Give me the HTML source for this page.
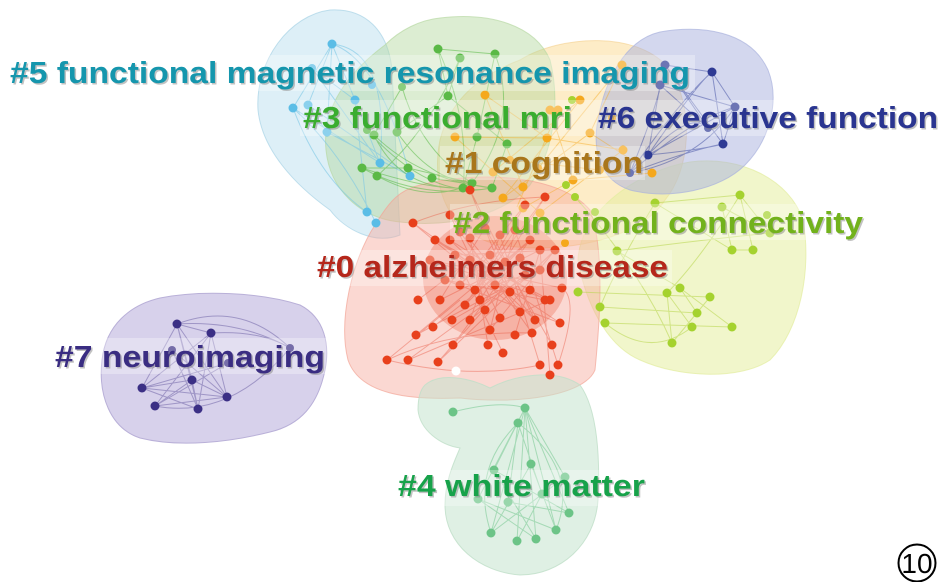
<!DOCTYPE html>
<html><head><meta charset="utf-8"><style>
html,body{margin:0;padding:0;background:#fff;}
svg{display:block;}
text{font-family:"Liberation Sans",Arial,sans-serif;font-weight:bold;}
</style></head><body>
<svg width="945" height="582" viewBox="0 0 945 582" xmlns="http://www.w3.org/2000/svg">
<rect width="945" height="582" fill="#fff"/>
<!-- blobs -->
<path d="M520 60 C560 35,640 30,670 70 C695 110,690 170,665 200 C640 240,560 255,500 245 C450 235,430 190,440 140 C450 100,480 75,520 60 Z" fill="#fbd98f" fill-opacity="0.5" stroke="#f4cf8a" stroke-opacity="0.6"/>
<path d="M690 162 C740 155,790 180,803 220 C812 270,800 330,770 360 C740 380,680 378,640 360 C605 345,585 300,578 260 C580 210,640 170,690 162 Z" fill="#e6efa0" fill-opacity="0.55" stroke="#e3eca0" stroke-opacity="0.7"/>
<path d="M660 32 C700 25,750 30,768 70 C780 100,770 140,745 165 C720 190,670 200,630 190 C600 180,592 150,598 120 C605 80,625 40,660 32 Z" fill="#a7b0de" fill-opacity="0.5" stroke="#a9b2dd" stroke-opacity="0.7"/>
<path d="M330 10 C365 8,388 30,392 70 L400 235 C375 245,345 230,330 210 C295 185,262 150,258 110 C255 60,290 15,330 10 Z" fill="#b4dcee" fill-opacity="0.45" stroke="#a8d3e6" stroke-opacity="0.7"/>
<path d="M440 18 C490 12,535 25,550 60 C560 100,555 150,530 185 C505 215,450 228,400 222 C360 218,330 190,326 150 C322 110,345 75,385 45 C400 30,420 20,440 18 Z" fill="#b2d69c" fill-opacity="0.45" stroke="#b8d8a4" stroke-opacity="0.7"/>
<path d="M420 185 C480 170,560 175,590 210 C605 250,600 320,595 370 C585 395,520 405,460 398 C410 400,360 395,348 360 C338 320,352 260,375 225 C390 200,400 190,420 185 Z" fill="#f6a99c" fill-opacity="0.45" stroke="#f2a597" stroke-opacity="0.7"/>
<path d="M160 298 C200 290,260 292,300 305 C325 318,330 345,325 370 C318 405,300 425,270 432 C230 442,180 448,140 438 C110 428,98 395,102 360 C106 325,130 305,160 298 Z" fill="#c6bee2" fill-opacity="0.7" stroke="#b9b0d8"/>
<path d="M425 385 C440 372,470 378,490 388 C515 375,555 368,580 385 C598 410,600 460,598 500 C595 545,560 575,520 575 C480 572,445 545,445 505 C445 480,455 460,460 448 C440 445,420 430,418 410 C418 398,420 390,425 385 Z" fill="#c4e3cd" fill-opacity="0.55" stroke="#bfdec8" stroke-opacity="0.8"/>
<!-- dense red core -->
<ellipse cx="495" cy="278" rx="72" ry="62" fill="#ea5a40" fill-opacity="0.3"/>
<!-- edges -->
<g fill="none" stroke-width="1">
<path stroke="#7cc6e4" stroke-opacity="0.6" d="M332 44 L293 108 M332 44 L308 105 M332 44 L355 100 M332 44 L327 132 M332 44 Q380 60 410 176 M332 44 Q390 50 380 163 M293 108 L380 163 M308 105 L410 176 M355 100 L367 212 M327 132 L410 176 M293 108 Q340 150 376 223 M355 100 L380 163 M308 105 L327 132 M312 68 L380 163 M312 68 L355 100 M293 108 Q320 180 367 212"/>
<path stroke="#5ab946" stroke-opacity="0.55" d="M362 168 Q420 200 492 188 M377 176 Q430 205 472 183 M362 168 Q430 190 463 188 M374 135 Q420 180 492 188 M397 132 Q430 180 472 183 M438 49 L448 96 M460 58 L448 96 M495 54 L477 137 M438 49 Q470 120 463 188 M402 87 L374 135 M448 96 L397 132 M408 168 L472 183 M432 178 L492 188 M477 137 L463 188 M507 144 L492 188 M495 54 Q520 120 472 183 M460 58 Q430 130 377 176 M438 49 L495 54 M374 135 Q400 190 463 188 M367 130 Q430 200 492 188 M402 87 Q420 150 472 183 M362 168 L408 168 M448 96 L507 144"/>
<path stroke="#f5a81c" stroke-opacity="0.45" d="M485 95 L523 187 M580 100 L503 198 M550 110 L573 180 M622 65 L590 133 M455 137 L540 213 M547 138 L623 150 M590 133 L652 173 M493 172 L580 100 M523 187 L622 65 M558 110 L517 207 M573 180 L652 173 M455 137 L547 138 M510 160 L600 170 M485 95 L547 138 M523 208 L573 180 M540 213 L623 150 M503 198 L590 133"/>
<path stroke="#3b4aa0" stroke-opacity="0.5" d="M630 173 Q660 100 665 65 M630 173 Q680 100 712 72 M630 173 Q690 120 735 107 M630 173 Q690 150 723 144 M648 155 Q690 110 708 128 M648 155 L660 85 M648 155 Q700 80 712 72 M648 155 L735 107 M665 65 L712 72 M712 72 L735 107 M735 107 L723 144 M660 85 L708 128 M665 65 L723 144 M630 173 Q700 160 735 107 M660 85 L735 107 M665 65 L708 128 M712 72 L723 144 M648 155 Q700 150 723 144"/>
<path stroke="#b6d64a" stroke-opacity="0.55" d="M655 203 L740 195 M655 203 L732 250 M722 207 L770 233 M740 195 L753 250 M617 251 L680 288 M680 288 L732 327 M667 293 L692 327 M710 297 L672 343 M600 307 L697 313 M605 323 L732 327 M655 203 Q620 260 600 307 M740 195 Q700 260 667 293 M722 207 L732 250 M617 251 Q700 240 770 233 M575 197 Q640 270 672 343 M578 292 L710 297 M740 195 L770 233 M732 250 L753 250 M680 288 L697 313 M667 293 L672 343 M605 323 Q650 360 692 327"/>
<path stroke="#e8503a" stroke-opacity="0.4" d="M413 223 L480 270 M418 300 L470 260 M416 335 L500 290 M387 360 L460 300 M408 360 L490 300 M438 362 L510 280 M433 327 L520 258 M452 320 L540 270 M453 345 L530 240 M488 345 L470 238 M503 353 L455 255 M532 333 L460 232 M552 345 L485 228 M540 365 L500 235 M558 365 L515 230 M550 375 L540 250 M560 323 L445 280 M550 300 L435 240 M562 288 L430 260 M525 205 L475 290 M545 197 L465 305 M470 190 L510 292 M450 215 L535 320 M450 240 L545 300 M460 232 L520 312 M470 238 L485 310 M485 228 L440 300 M500 235 L470 320 M515 230 L490 330 M530 240 L465 305 M540 250 L515 335 M455 255 L555 250 M470 260 L530 290 M490 255 L460 285 M505 262 L475 290 M387 360 Q470 380 540 365 M387 360 Q450 330 532 333 M413 223 Q470 200 545 197 M558 365 Q580 300 562 288 M416 335 L530 240 M408 360 L550 300 M438 362 L555 250 M445 280 L545 300 M440 300 L540 250 M450 240 L535 320 M460 285 L525 205 M480 300 L545 197 M500 318 L450 215 M520 312 L413 223 M535 320 L470 190 M490 330 L555 250 M465 305 L515 230 M430 260 L550 300 M435 240 L560 323 M475 290 L530 240 M510 292 L455 255 M495 285 L540 270 M470 320 L525 275"/>
<path stroke="#5a4e9a" stroke-opacity="0.45" d="M177 324 L211 333 M177 324 L192 380 M177 324 L142 388 M177 324 L198 409 M177 324 L227 397 M177 324 Q240 320 290 348 M211 333 L155 406 M211 333 L198 409 M211 333 L227 397 M211 333 Q260 330 290 348 M172 350 L227 397 M192 380 L142 388 M192 380 L155 406 M192 380 L198 409 M192 380 L227 397 M142 388 L198 409 M155 406 L227 397 M142 388 L227 397 M155 406 Q230 420 290 348 M228 363 L155 406 M228 363 L142 388 M172 350 L198 409 M211 333 L142 388 M177 324 Q240 300 290 348"/>
<path stroke="#6cc487" stroke-opacity="0.5" d="M453 412 Q500 400 525 408 M525 408 L494 470 M525 408 L478 499 M525 408 L491 533 M525 408 L517 541 M525 408 L536 539 M525 408 L556 530 M525 408 L569 513 M525 408 L565 477 M518 423 L508 502 M518 423 L542 494 M531 464 L491 533 M531 464 L556 530 M494 470 L536 539 M565 477 L491 533 M478 499 L556 530 M508 502 L569 513 M542 494 L517 541 M478 499 L536 539 M494 470 L569 513 M518 423 Q470 470 491 533 M518 423 Q580 470 556 530"/>
</g>
<!-- nodes -->
<g fill="#5bbde6">
<circle cx="332" cy="44" r="4.5"/><circle cx="293" cy="108" r="4.5"/><circle cx="308" cy="105" r="4.5"/><circle cx="312" cy="68" r="4"/><circle cx="355" cy="100" r="4.5"/><circle cx="327" cy="132" r="4.5"/><circle cx="380" cy="163" r="4.5"/><circle cx="410" cy="176" r="4.5"/><circle cx="367" cy="212" r="4.5"/><circle cx="376" cy="223" r="4.5"/><circle cx="372" cy="85" r="4"/>
</g>
<g fill="#5ab946">
<circle cx="438" cy="49" r="4.5"/><circle cx="460" cy="58" r="4.5"/><circle cx="495" cy="54" r="4.5"/><circle cx="402" cy="87" r="4"/><circle cx="448" cy="96" r="4.5"/><circle cx="367" cy="130" r="4"/><circle cx="374" cy="135" r="4.5"/><circle cx="397" cy="132" r="4.5"/><circle cx="477" cy="137" r="4.5"/><circle cx="507" cy="144" r="4.5"/><circle cx="362" cy="168" r="4.5"/><circle cx="377" cy="176" r="4.5"/><circle cx="408" cy="168" r="4.5"/><circle cx="432" cy="178" r="4.5"/><circle cx="463" cy="188" r="4.5"/><circle cx="472" cy="183" r="4.5"/><circle cx="492" cy="188" r="4.5"/>
</g>
<g fill="#f5a81c">
<circle cx="485" cy="95" r="4.5"/><circle cx="580" cy="100" r="4.5"/><circle cx="550" cy="110" r="4.5"/><circle cx="558" cy="110" r="4.5"/><circle cx="622" cy="65" r="4.5"/><circle cx="455" cy="137" r="4.5"/><circle cx="547" cy="138" r="4.5"/><circle cx="590" cy="133" r="4.5"/><circle cx="623" cy="150" r="4.5"/><circle cx="493" cy="172" r="4.5"/><circle cx="523" cy="187" r="4.5"/><circle cx="573" cy="180" r="4.5"/><circle cx="652" cy="173" r="4.5"/><circle cx="503" cy="198" r="4.5"/><circle cx="523" cy="208" r="4.5"/><circle cx="540" cy="213" r="4.5"/><circle cx="565" cy="243" r="4"/><circle cx="510" cy="160" r="4"/><circle cx="600" cy="170" r="4"/><circle cx="538" cy="168" r="4"/><circle cx="612" cy="118" r="4"/>
</g>
<g fill="#2e3a94">
<circle cx="665" cy="65" r="4.5"/><circle cx="712" cy="72" r="4.5"/><circle cx="660" cy="85" r="4.5"/><circle cx="735" cy="107" r="4.5"/><circle cx="708" cy="128" r="4"/><circle cx="723" cy="144" r="4.5"/><circle cx="648" cy="155" r="4.5"/><circle cx="630" cy="173" r="4"/>
</g>
<g fill="#a5d22f">
<circle cx="655" cy="203" r="4.5"/><circle cx="740" cy="195" r="4.5"/><circle cx="722" cy="207" r="4.5"/><circle cx="767" cy="215" r="4"/><circle cx="770" cy="233" r="4.5"/><circle cx="732" cy="250" r="4.5"/><circle cx="753" cy="250" r="4.5"/><circle cx="617" cy="251" r="4.5"/><circle cx="680" cy="288" r="4.5"/><circle cx="667" cy="293" r="4.5"/><circle cx="710" cy="297" r="4.5"/><circle cx="697" cy="313" r="4.5"/><circle cx="692" cy="327" r="4.5"/><circle cx="732" cy="327" r="4.5"/><circle cx="600" cy="307" r="4.5"/><circle cx="605" cy="323" r="4.5"/><circle cx="672" cy="343" r="4.5"/><circle cx="575" cy="197" r="4"/><circle cx="578" cy="292" r="4.5"/><circle cx="572" cy="100" r="4"/><circle cx="595" cy="212" r="4"/><circle cx="566" cy="185" r="4"/>
</g>
<g fill="#e8401c">
<circle cx="413" cy="223" r="4.5"/><circle cx="418" cy="300" r="4.5"/><circle cx="416" cy="335" r="4.5"/><circle cx="387" cy="360" r="4.5"/><circle cx="408" cy="360" r="4.5"/><circle cx="438" cy="362" r="4.5"/><circle cx="433" cy="327" r="4.5"/><circle cx="452" cy="320" r="4.5"/><circle cx="453" cy="345" r="4.5"/><circle cx="488" cy="345" r="4.5"/><circle cx="503" cy="353" r="4.5"/><circle cx="532" cy="333" r="4.5"/><circle cx="552" cy="345" r="4.5"/><circle cx="540" cy="365" r="4.5"/><circle cx="558" cy="365" r="4.5"/><circle cx="550" cy="375" r="4.5"/><circle cx="560" cy="323" r="4.5"/><circle cx="550" cy="300" r="4.5"/><circle cx="562" cy="288" r="4.5"/><circle cx="525" cy="205" r="4.5"/><circle cx="545" cy="197" r="4.5"/><circle cx="470" cy="190" r="4.5"/><circle cx="450" cy="215" r="4.5"/>
<circle cx="450" cy="240" r="4.5"/><circle cx="460" cy="232" r="4.5"/><circle cx="470" cy="238" r="4.5"/><circle cx="485" cy="228" r="4.5"/><circle cx="500" cy="235" r="4.5"/><circle cx="515" cy="230" r="4.5"/><circle cx="530" cy="240" r="4.5"/><circle cx="540" cy="250" r="4.5"/><circle cx="455" cy="255" r="4.5"/><circle cx="470" cy="260" r="4.5"/><circle cx="490" cy="255" r="4.5"/><circle cx="505" cy="262" r="4.5"/><circle cx="520" cy="258" r="4.5"/><circle cx="540" cy="270" r="4.5"/><circle cx="445" cy="280" r="4.5"/><circle cx="460" cy="285" r="4.5"/><circle cx="475" cy="290" r="4.5"/><circle cx="495" cy="285" r="4.5"/><circle cx="510" cy="292" r="4.5"/><circle cx="530" cy="290" r="4.5"/><circle cx="545" cy="300" r="4.5"/><circle cx="440" cy="300" r="4.5"/><circle cx="465" cy="305" r="4.5"/><circle cx="485" cy="310" r="4.5"/><circle cx="500" cy="318" r="4.5"/><circle cx="520" cy="312" r="4.5"/><circle cx="535" cy="320" r="4.5"/><circle cx="470" cy="320" r="4.5"/><circle cx="490" cy="330" r="4.5"/><circle cx="515" cy="335" r="4.5"/><circle cx="480" cy="300" r="4.5"/><circle cx="525" cy="275" r="4.5"/><circle cx="555" cy="250" r="4.5"/><circle cx="430" cy="260" r="4.5"/><circle cx="435" cy="240" r="4.5"/>
</g>
<circle cx="456" cy="371" r="4.5" fill="#fff"/>
<g fill="#3b2f85">
<circle cx="177" cy="324" r="4.5"/><circle cx="211" cy="333" r="4.5"/><circle cx="172" cy="350" r="4"/><circle cx="192" cy="380" r="4.5"/><circle cx="142" cy="388" r="4.5"/><circle cx="155" cy="406" r="4.5"/><circle cx="198" cy="409" r="4.5"/><circle cx="227" cy="397" r="4.5"/><circle cx="290" cy="348" r="4"/><circle cx="228" cy="363" r="4"/>
</g>
<g fill="#6cc487">
<circle cx="453" cy="412" r="4.5"/><circle cx="525" cy="408" r="4.5"/><circle cx="518" cy="423" r="4.5"/><circle cx="531" cy="464" r="4.5"/><circle cx="494" cy="470" r="4.5"/><circle cx="565" cy="477" r="4.5"/><circle cx="478" cy="499" r="4.5"/><circle cx="508" cy="502" r="4.5"/><circle cx="542" cy="494" r="4.5"/><circle cx="569" cy="513" r="4.5"/><circle cx="491" cy="533" r="4.5"/><circle cx="556" cy="530" r="4.5"/><circle cx="517" cy="541" r="4.5"/><circle cx="536" cy="539" r="4.5"/>
</g>
<!-- label bands -->
<g fill="#fff" fill-opacity="0.3">
<rect x="255" y="55" width="440" height="36"/>
<rect x="300" y="100" width="640" height="36"/>
<rect x="440" y="146" width="205" height="34"/>
<rect x="450" y="204" width="415" height="36"/>
<rect x="312" y="250" width="360" height="36"/>
<rect x="100" y="338" width="230" height="36"/>
<rect x="395" y="470" width="255" height="36"/>
</g>
<!-- label shadows -->
<g fill="#777" fill-opacity="0.45" font-size="31">
<text x="11.5" y="84.5" textLength="680" lengthAdjust="spacingAndGlyphs">#5 functional magnetic resonance imaging</text>
<text x="304.5" y="129.5" textLength="269" lengthAdjust="spacingAndGlyphs">#3 functional mri</text>
<text x="599.5" y="129.5" textLength="340" lengthAdjust="spacingAndGlyphs">#6 executive function</text>
<text x="446.5" y="174.5" textLength="198" lengthAdjust="spacingAndGlyphs">#1 cognition</text>
<text x="454.5" y="234.5" textLength="410" lengthAdjust="spacingAndGlyphs">#2 functional connectivity</text>
<text x="318.5" y="278.5" textLength="351" lengthAdjust="spacingAndGlyphs">#0 alzheimers disease</text>
<text x="56.5" y="368.5" textLength="270" lengthAdjust="spacingAndGlyphs">#7 neuroimaging</text>
<text x="399.5" y="497.5" textLength="247" lengthAdjust="spacingAndGlyphs">#4 white matter</text>
</g>
<!-- labels -->
<g font-size="31">
<text x="10" y="83" fill="#1596ad" textLength="680" lengthAdjust="spacingAndGlyphs">#5 functional magnetic resonance imaging</text>
<text x="303" y="128" fill="#3aad2f" textLength="269" lengthAdjust="spacingAndGlyphs">#3 functional mri</text>
<text x="598" y="128" fill="#2a3590" textLength="340" lengthAdjust="spacingAndGlyphs">#6 executive function</text>
<text x="445" y="173" fill="#a9761b" textLength="198" lengthAdjust="spacingAndGlyphs">#1 cognition</text>
<text x="453" y="233" fill="#72b21c" textLength="410" lengthAdjust="spacingAndGlyphs">#2 functional connectivity</text>
<text x="317" y="277" fill="#b5271b" textLength="351" lengthAdjust="spacingAndGlyphs">#0 alzheimers disease</text>
<text x="55" y="367" fill="#3a2d82" textLength="270" lengthAdjust="spacingAndGlyphs">#7 neuroimaging</text>
<text x="398" y="496" fill="#17a24a" textLength="247" lengthAdjust="spacingAndGlyphs">#4 white matter</text>
</g>
<!-- badge -->
<circle cx="917" cy="563" r="18.5" fill="none" stroke="#000" stroke-width="2"/>
<text x="917" y="573" font-size="28" style="font-weight:normal" text-anchor="middle" fill="#000">10</text>
</svg>
</body></html>
